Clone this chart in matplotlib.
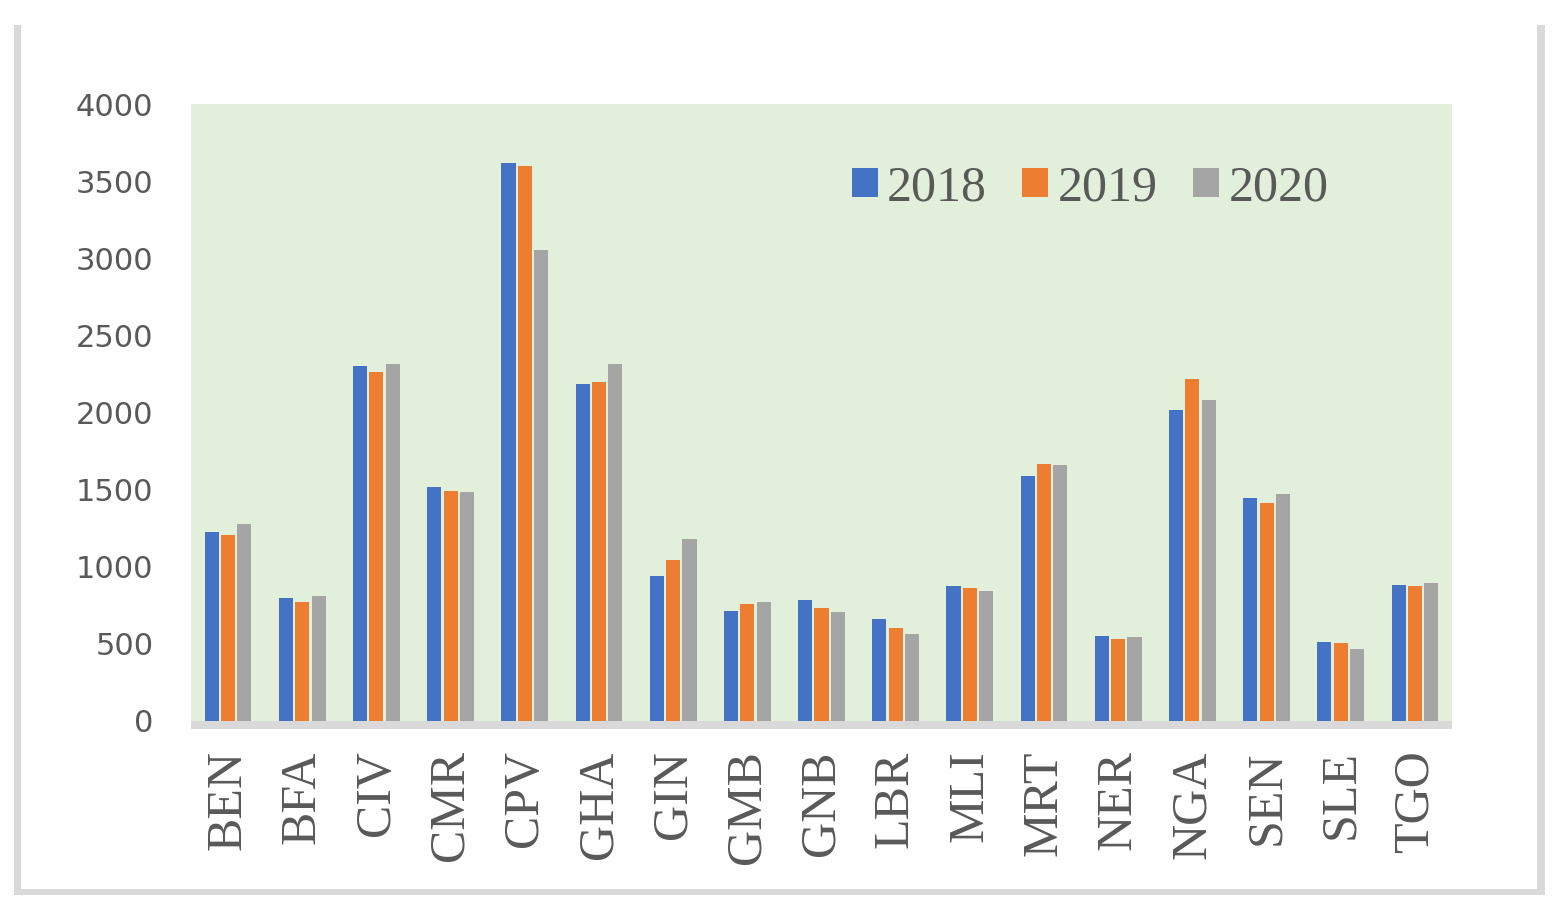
import matplotlib
matplotlib.use("Agg")
import matplotlib.pyplot as plt
import numpy as np
from matplotlib.patches import Rectangle

countries = ["BEN", "BFA", "CIV", "CMR", "CPV", "GHA", "GIN", "GMB", "GNB",
             "LBR", "MLI", "MRT", "NER", "NGA", "SEN", "SLE", "TGO"]
years = ["2018", "2019", "2020"]
v2018 = [1225, 797, 2301, 1517, 3618, 2185, 940, 713, 784, 661, 875, 1588, 551, 2016, 1446, 512, 882]
v2019 = [1206, 771, 2263, 1491, 3598, 2198, 1044, 758, 733, 603, 862, 1666, 532, 2217, 1413, 506, 875]
v2020 = [1277, 810, 2314, 1485, 3053, 2314, 1180, 771, 707, 564, 843, 1660, 545, 2081, 1472, 467, 895]
yticks = [0, 500, 1000, 1500, 2000, 2500, 3000, 3500, 4000]

colors = ["#4472C4", "#ED7D31", "#A5A5A5"]
W, H = 1566, 917
fig = plt.figure(figsize=(W / 100, H / 100), dpi=100)
fig.patch.set_facecolor("white")

L, R, T, B = 191, 1452, 104, 721
ax = fig.add_axes([L / W, (H - B) / H, (R - L) / W, (B - T) / H])
ax.set_facecolor("#E2EFDA")

x = np.arange(len(countries))
bw = 0.19
off = 0.22
for i, (vals, c, lab) in enumerate(zip([v2018, v2019, v2020], colors, years)):
    ax.bar(x + (i - 1) * off, vals, width=bw, color=c, label=lab, zorder=2)

ax.set_xlim(-0.5, len(countries) - 0.5)
ax.set_ylim(0, 4000)
ax.set_yticks(yticks)
ax.set_yticklabels([str(t) for t in yticks], fontsize=22, color="#595959",
                   family=["DejaVu Sans"])
ax.set_xticks(x)
ax.set_xticklabels(countries, rotation=90, fontsize=36, color="#595959",
                   family=["Liberation Serif", "DejaVu Serif"], va="top")
ax.tick_params(axis="y", length=0, pad=27)
ax.tick_params(axis="x", length=0, pad=21)
for s in ax.spines.values():
    s.set_visible(False)

# bottom axis strip
fig.add_artist(Rectangle((L / W, (H - 729) / H), (R - L) / W, 8 / H,
                         transform=fig.transFigure, color="#D9D9D9", lw=0))
# outer frame (left, bottom, right)
fc = "#D9D9D9"
fig.add_artist(Rectangle((14 / W, (H - 895) / H), 7 / W, (895 - 25) / H,
                         transform=fig.transFigure, color=fc, lw=0))
fig.add_artist(Rectangle((14 / W, (H - 895) / H), (1545 - 14) / W, 6 / H,
                         transform=fig.transFigure, color=fc, lw=0))
fig.add_artist(Rectangle((1537 / W, (H - 895) / H), 8 / W, (895 - 25) / H,
                         transform=fig.transFigure, color=fc, lw=0))

leg = ax.legend(loc="center", bbox_to_anchor=((854 + 1326) / 2 / W, 1 - 188 / H),
                bbox_transform=fig.transFigure, ncol=3, frameon=False,
                prop={"family": ["Liberation Serif", "DejaVu Serif"], "size": 36},
                handlelength=0.52, handleheight=0.54, handletextpad=0.18,
                columnspacing=0.72, borderpad=0, borderaxespad=0)
for t in leg.get_texts():
    t.set_color("#595959")

fig.savefig("out.png", dpi=100)
